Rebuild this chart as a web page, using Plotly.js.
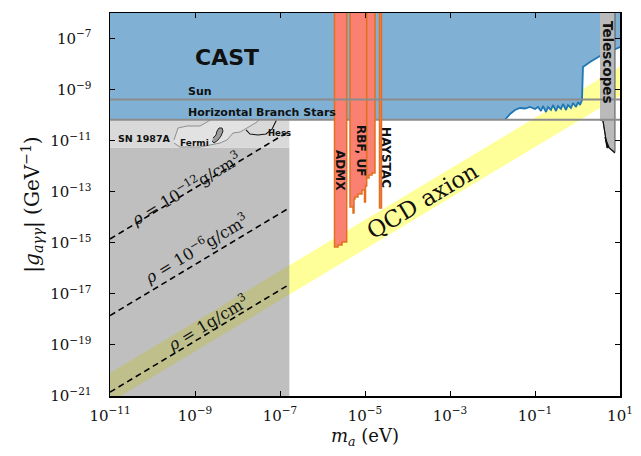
<!DOCTYPE html>
<html><head><meta charset="utf-8">
<script src="https://cdn.plot.ly/plotly-3.0.1.min.js"></script>
<style>html,body{margin:0;padding:0;background:#fff}</style>
</head><body>
<div id="chart" style="width:641px;height:456px"></div>
<script>
// ---- tick labels ----
const xTickVals = [1e-11, 1e-9, 1e-7, 1e-5, 1e-3, 1e-1, 1e1];
const xTickText = ['10<sup>−11</sup>','10<sup>−9</sup>','10<sup>−7</sup>','10<sup>−5</sup>','10<sup>−3</sup>','10<sup>−1</sup>','10<sup>1</sup>'];
const yTickVals = [1e-21, 1e-19, 1e-17, 1e-15, 1e-13, 1e-11, 1e-9, 1e-7];
const yTickText = ['10<sup>−21</sup>','10<sup>−19</sup>','10<sup>−17</sup>','10<sup>−15</sup>','10<sup>−13</sup>','10<sup>−11</sup>','10<sup>−9</sup>','10<sup>−7</sup>'];

// ---- data, all in log10 (mass in eV, coupling in GeV^-1) ----
const qcdMassLog   = [-12, 2, 2, -12];
const qcdCouplingLog = [-21.1, -7.1, -8.25, -22.25];

const greyMassLog = [-12, -6.78, -6.78, -12];
const greyCouplingLog = [-23, -23, -11.27, -11.27];

const sn1987MassLog = [-12, -6.78, -6.78, -12];
const sn1987CouplingLog = [-11.27, -11.27, -10.18, -10.18];

const fermiMassLog = [-9.494, -9.4, -9.188, -8.882, -8.718, -8.6, -8.6, -7.471, -7.471, -7.541, -7.776, -7.941, -8.106, -8.247, -8.412, -8.882, -9.353, -9.494];
const fermiCouplingLog = [-10.974, -10.504, -10.426, -10.426, -10.27, -10.152, -10.0, -10.0, -10.152, -10.27, -10.504, -10.661, -10.70, -10.974, -11.092, -11.249, -11.249, -11.092];

const fermiCoreMassLog = [-8.6, -8.553, -8.459, -8.388, -8.341, -8.365, -8.435, -8.482, -8.506, -8.576];
const fermiCoreCouplingLog = [-11.014, -11.092, -10.974, -10.818, -10.622, -10.504, -10.504, -10.622, -10.779, -10.896];

const hessMassLog = [-7.8, -7.706, -7.518, -7.329, -7.188, -7.094, -7.07];
const hessCouplingLog = [-10.58, -10.74, -10.78, -10.74, -10.548, -10.23, -10.0];

const castEdgeMassLog = [-1.706,-1.588,-1.471,-1.353,-1.235,-1.118,-1.0,-0.929,-0.859,-0.812,-0.741,-0.694,-0.624,-0.576,-0.506,-0.459,-0.388,-0.341,-0.271,-0.224,-0.153,-0.106,-0.035,0.012,0.059,0.106,0.129,0.294,0.529,0.882,1.0,1.2];
const castEdgeCouplingLog = [-10.18,-9.956,-9.799,-9.721,-9.741,-9.682,-9.760,-9.682,-9.839,-9.643,-9.878,-9.682,-9.799,-9.604,-9.839,-9.643,-9.760,-9.564,-9.799,-9.604,-9.721,-9.525,-9.682,-9.486,-9.604,-9.408,-8.115,-7.919,-7.684,-7.41,-7.332,-7.25];

const hbMassLog = [-12, 2];
const hbCouplingLog = [-10.18, -10.18];
const sunCouplingLog = [-9.39, -9.39];

const admxMassLog = [-5.718, -5.718, -5.635, -5.635, -5.541, -5.541, -5.431, -5.431];
const admxCouplingLog = [-5, -15.166, -15.166, -15.088, -15.088, -14.97, -14.97, -5];

const rbfMassLog = [-5.353, -5.353, -5.282, -5.282, -5.259, -5.259, -5.235, -5.235, -5.165, -5.165, -5.071, -5.071, -5.012, -5.012, -4.988, -4.988, -4.96, -4.96];
const rbfCouplingLog = [-5, -13.599, -13.599, -13.834, -13.834, -13.286, -13.286, -13.207, -13.207, -13.09, -13.09, -12.933, -12.933, -13.403, -13.403, -12.776, -12.776, -5];

const ufMassLog = [-4.96, -4.96, -4.906, -4.906, -4.835, -4.835, -4.765, -4.765];
const ufCouplingLog = [-5, -12.463, -12.463, -12.345, -12.345, -12.267, -12.267, -5];

const haystacMassLog = [-4.659, -4.659, -4.612, -4.612];
const haystacCouplingLog = [-5, -13.638, -13.638, -5];

const telescopeMassLog = [0.529, 0.882, 0.882, 0.694, 0.6, 0.529];
const telescopeCouplingLog = [-5, -5, -11.444, -11.21, -10.23, -10.191];
const telescopeEdgeMassLog = [0.6, 0.647, 0.671, 0.694, 0.741, 0.8, 0.882];
const telescopeEdgeCouplingLog = [-10.23, -10.857, -10.974, -11.21, -11.288, -11.366, -11.484];
const telescopeWedgeMassLog = [0.647, 0.741, 0.694, 0.647];
const telescopeWedgeCouplingLog = [-10.857, -11.25, -11.288, -10.857];

const rhoMassLog = [-11, -6.78];
const rho12CouplingLog = [-14.85, -10.63];
const rho6CouplingLog = [-17.85, -13.63];
const rho1CouplingLog = [-20.85, -16.63];

const P = a => a.map(v => Math.pow(10, v));

function region(mx, gy, fill, line, lw) {
  return {x: P(mx), y: P(gy), type: 'scatter', mode: 'lines', fill: 'toself',
    fillcolor: fill, line: {color: line || 'rgba(0,0,0,0)', width: lw || 0}, hoverinfo: 'skip', showlegend: false};
}
function curve(mx, gy, color, width, dash) {
  return {x: P(mx), y: P(gy), type: 'scatter', mode: 'lines',
    line: {color: color, width: width, dash: dash || 'solid'}, hoverinfo: 'skip', showlegend: false};
}

const halo = '#fa8072', haloEdge = '#e2701e';
const castMass = [-12].concat(castEdgeMassLog, [1.2, -12]);
const castCoup = [-10.18].concat(castEdgeCouplingLog, [-5, -5]);

const traces = [
  region(qcdMassLog, qcdCouplingLog, '#ffff99'),
  region(greyMassLog, greyCouplingLog, 'rgba(128,128,128,0.5)'),
  region(sn1987MassLog, sn1987CouplingLog, '#d9d9d9'),
  region(fermiMassLog, fermiCouplingLog, '#e2e2e2', '#7a7a7a', 0.8),
  region(fermiCoreMassLog, fermiCoreCouplingLog, '#9c9c9c', '#222', 1),
  curve(hessMassLog, hessCouplingLog, '#111', 1.1),
  region(castMass, castCoup, 'rgb(128,177,212)'),
  curve(castEdgeMassLog, castEdgeCouplingLog, '#1f77b4', 1.8),
  region(telescopeMassLog, telescopeCouplingLog, '#bababa', '#555', 1),
  region(telescopeWedgeMassLog, telescopeWedgeCouplingLog, '#111', '#111', 1),
  curve(telescopeEdgeMassLog, telescopeEdgeCouplingLog, '#111', 1.2),
  curve(hbMassLog, hbCouplingLog, '#8c8c8c', 2),
  region(admxMassLog, admxCouplingLog, halo, haloEdge, 1.5),
  region(rbfMassLog, rbfCouplingLog, halo, haloEdge, 1.5),
  region(ufMassLog, ufCouplingLog, halo, haloEdge, 1.5),
  region(haystacMassLog, haystacCouplingLog, halo, haloEdge, 1.5),
  curve(hbMassLog, sunCouplingLog, '#8c8c8c', 2),
  curve(rhoMassLog, rho12CouplingLog, '#000', 1.6, '6px,4px'),
  curve(rhoMassLog, rho6CouplingLog, '#000', 1.6, '6px,4px'),
  curve(rhoMassLog, rho1CouplingLog, '#000', 1.6, '6px,4px')
];

const sans = 'DejaVu Sans', serif = 'DejaVu Serif';
function ann(text, x, y, size, opts) {
  return Object.assign({text: text, x: x, y: y, xref: 'paper', yref: 'paper', showarrow: false,
    xanchor: 'center', yanchor: 'middle', font: {family: sans, size: size, color: '#111'}}, opts || {});
}
const annotations = [
  ann('<b>CAST</b>', 0.2294, 0.885, 22),
  ann('<b>Sun</b>', 0.149, 0.796, 11, {xanchor: 'left'}),
  ann('<b>Horizontal Branch Stars</b>', 0.149, 0.7415, 11, {xanchor: 'left'}),
  ann('<b>SN 1987A</b>', 0.0118, 0.6736, 9.5, {xanchor: 'left'}),
  ann('<b>Fermi</b>', 0.133, 0.6606, 9, {xanchor: 'left'}),
  ann('<b>Hess</b>', 0.306, 0.6867, 8.5, {xanchor: 'left'}),
  ann('<b>ADMX</b>', 0.451, 0.590, 12, {textangle: 90}),
  ann('<b>RBF, UF</b>', 0.492, 0.6397, 12, {textangle: 90}),
  ann('<b>HAYSTAC</b>', 0.541, 0.6214, 12, {textangle: 90}),
  ann('<b>Telescopes</b>', 0.9765, 0.872, 13.5, {textangle: 90}),
  ann('<i>ρ</i> = 10<sup>−12</sup>g/cm<sup>3</sup>', 0.149, 0.543, 16, {textangle: -31, font: {family: serif, size: 16, color: '#111'}}),
  ann('<i>ρ</i> = 10<sup>−6</sup>g/cm<sup>3</sup>', 0.1686, 0.3864, 16, {textangle: -31, font: {family: serif, size: 16, color: '#111'}}),
  ann('<i>ρ</i> = 1g/cm<sup>3</sup>', 0.192, 0.193, 16, {textangle: -31, font: {family: serif, size: 16, color: '#111'}}),
  ann('QCD axion', 0.612, 0.509, 23, {textangle: -31, font: {family: serif, size: 23, color: '#111'}})
];

const axisCommon = {
  type: 'log', showgrid: false, zeroline: false, showline: true, linecolor: '#000', linewidth: 1.5,
  mirror: 'ticks', ticks: 'inside', ticklen: 5, tickwidth: 1, tickcolor: '#000',
  tickmode: 'array', tickfont: {family: serif, size: 15, color: '#111'}
};
const layout = {
  width: 641, height: 456,
  margin: {l: 110, r: 21, t: 13, b: 60},
  paper_bgcolor: '#fff', plot_bgcolor: '#fff',
  showlegend: false, hovermode: false,
  xaxis: Object.assign({}, axisCommon, {range: [-11, 1], tickvals: xTickVals, ticktext: xTickText,
    ticklabelstandoff: 5,
    title: {text: '<i>m</i><sub><i>a</i></sub> (eV)', font: {family: serif, size: 18, color: '#111'}, standoff: 6}}),
  yaxis: Object.assign({}, axisCommon, {range: [-21, -6], tickvals: yTickVals, ticktext: yTickText,
    ticklabelstandoff: 14,
    title: {text: '|<i>g</i><sub><i>aγγ</i></sub>| (GeV<sup>−1</sup>)', font: {family: serif, size: 20, color: '#111'}, standoff: 5}}),
  annotations: annotations
};

Plotly.newPlot('chart', traces, layout, {displayModeBar: false, staticPlot: true});
</script>
</body></html>
